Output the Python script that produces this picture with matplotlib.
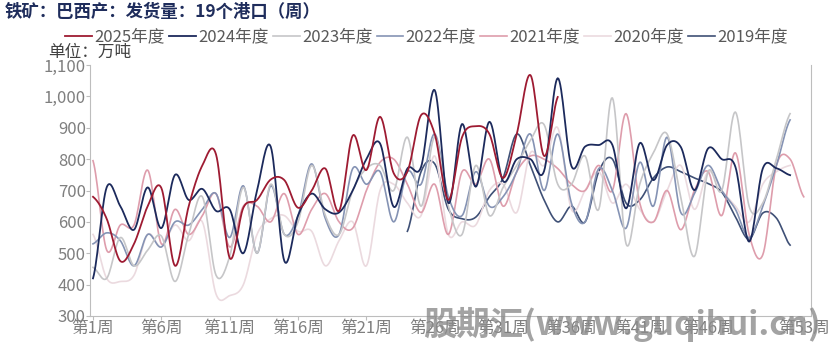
import numpy as np
import matplotlib
matplotlib.use("Agg")
import matplotlib.pyplot as plt

plt.rcParams["font.family"] = ["Noto Sans CJK SC", "DejaVu Sans"]

# weekly shipments, 10k tonnes
y2025 = [680, 610, 475, 530, 650, 708, 460, 650, 780, 815, 485, 645, 670, 735, 733, 645, 700, 770, 635, 875,
         765, 935, 755, 760, 940, 880, 670, 870, 905, 880, 740, 880, 1068, 810, 998]
y2024 = [420, 710, 650, 575, 710, 580, 750, 670, 705, 635, 640, 500, 700, 840, 475, 620, 690, 640, 630, 700,
         800, 850, 648, 770, 775, 1020, 660, 912, 712, 919, 730, 800, 800, 762, 1058, 778, 840, 845, 845, 643,
         851, 733, 845, 839, 701, 834, 800, 775, 537, 770, 771, 749]
y2023 = [455, 420, 550, 460, 510, 555, 410, 560, 680, 430, 490, 710, 500, 720, 560, 600, 780, 620, 560, 700,
         770, 780, 700, 870, 650, 870, 650, 560, 780, 620, 710, 780, 860, 910, 720, 720, 810, 640, 995, 530,
         720, 820, 880, 680, 490, 760, 700, 950, 650, 660, 800, 945]
y2022 = [530, 565, 540, 460, 560, 520, 600, 590, 640, 690, 550, 715, 500, 715, 560, 620, 785, 610, 560, 770,
         720, 760, 600, 760, 720, 880, 680, 620, 760, 650, 680, 760, 880, 700, 880, 660, 600, 770, 700, 580,
         790, 650, 870, 630, 690, 780, 700, 640, 550, 650, 780, 925]
y2021 = [795, 510, 590, 590, 765, 530, 640, 560, 620, 690, 520, 650, 650, 600, 690, 560, 640, 690, 600, 580,
         700, 790, 800, 720, 630, 720, 560, 760, 720, 800, 650, 760, 810, 800, 770, 720, 700, 780, 700, 945,
         660, 600, 700, 575, 700, 760, 620, 820, 560, 495, 780, 800, 680]
y2020 = [560, 420, 410, 430, 560, 520, 590, 540, 600, 370, 365, 400, 560, 610, 620, 570, 570, 460, 540, 600,
         460, 700, 720, 660, 620, 810, 560, 600, 590, 700, 720, 630, 820, 780, 900, 640, 700, 760, 660, 720,
         640, 600, 700, 780, 640, 760, 700, 650, 600, 720, 760, 780]
y2019 = [570, 760, 785, 640, 610, 615, 680, 740, 880, 780, 670, 600, 650, 600, 760, 800, 660, 670, 740, 775,
         760, 740, 722, 695, 616, 545, 628, 612, 526]
start2019 = 24

labels = ["2025年度", "2024年度", "2023年度", "2022年度", "2021年度", "2020年度", "2019年度"]
colors = ["#9E1B32", "#1C2A5C", "#C6C6C8", "#8593B4", "#DE9DAC", "#EBDADF", "#3F5076"]

tick_weeks = [1, 6, 11, 16, 21, 26, 31, 36, 41, 46, 53]


def smooth(x, y, n=16):
    # catmull-rom through the weekly points, like the excel smoothed line
    x = np.asarray(x, float)
    y = np.asarray(y, float)
    px = np.concatenate([[2 * x[0] - x[1]], x, [2 * x[-1] - x[-2]]])
    py = np.concatenate([[y[0]], y, [y[-1]]])
    t = np.linspace(0, 1, n, endpoint=False)
    xs, ys = [], []
    for i in range(1, len(px) - 2):
        for p, out in ((px, xs), (py, ys)):
            p0, p1, p2, p3 = p[i - 1], p[i], p[i + 1], p[i + 2]
            out.append(0.5 * (2 * p1 + (-p0 + p2) * t + (2 * p0 - 5 * p1 + 4 * p2 - p3) * t ** 2
                              + (-p0 + 3 * p1 - 3 * p2 + p3) * t ** 3))
    xs.append([x[-1]])
    ys.append([y[-1]])
    return np.concatenate(xs), np.concatenate(ys)


fig = plt.figure(figsize=(8.38, 3.44), dpi=100)
ax = fig.add_axes([0.1074, 0.0814, 0.8604, 0.7296])

series = [y2025, y2024, y2023, y2022, y2021, y2020, y2019]
starts = [1, 1, 1, 1, 1, 1, start2019]
order = [5, 2, 4, 3, 6, 1, 0]  # draw light ones first
handles = {}
for i in order:
    w = np.arange(starts[i], starts[i] + len(series[i]))
    sx, sy = smooth(w, series[i])
    lw = 1.3 if i in (0, 1) else 1.2
    handles[i], = ax.plot(sx, sy, color=colors[i], lw=lw, label=labels[i], zorder=10 - i)

ax.set_xlim(0.78, 53.53)
ax.set_ylim(300, 1100)
ax.set_yticks(range(300, 1101, 100))
ax.set_yticklabels([f"{v:,}" for v in range(300, 1101, 100)])
ax.set_xticks(tick_weeks)
ax.set_xticklabels([f"第{w}周" for w in tick_weeks])

for s in ["left", "bottom", "right"]:
    ax.spines[s].set_color("#BDBDBD")
ax.spines["top"].set_visible(False)
ax.tick_params(axis="both", colors="#BDBDBD", labelcolor="#7F7F7F", labelsize=12, length=3, pad=0)

fig.legend([handles[i] for i in range(7)], labels, loc="center", bbox_to_anchor=(0.509, 0.892), ncol=7,
           frameon=False, fontsize=12, handlelength=1.6, handletextpad=0.15, columnspacing=0.25,
           labelcolor="#595959")

fig.text(0.006, 0.965, "铁矿：巴西产：发货量：19个港口（周）", fontsize=12.5, fontweight="bold",
         color="#1F2D5C", va="center", ha="left")
fig.text(0.058, 0.847, "单位：万吨", fontsize=12, color="#404040", va="center", ha="left")

# site watermark
fig.text(0.979, 0.058, "股期汇(www.guqihui.cn)", fontsize=24, fontweight="bold", color="#8C8C8C",
         alpha=0.8, ha="right", va="center", zorder=20)

fig.savefig("out.png", dpi=100)
